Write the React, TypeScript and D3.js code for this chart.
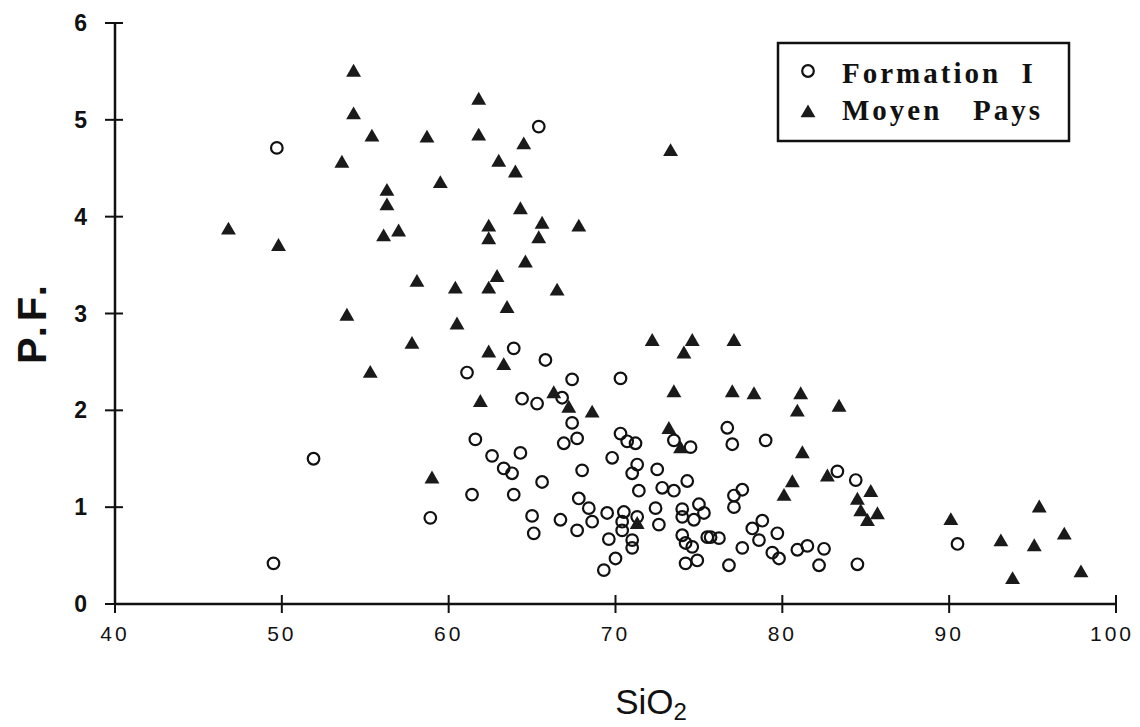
import React from 'react';
import * as d3 from 'd3';

// SiO2 / P.F. pairs
const formationI: [number, number][] = [
  [49.5, 0.42], [49.7, 4.71], [51.9, 1.5], [58.9, 0.89], [61.1, 2.39], [61.4, 1.13],
  [61.6, 1.7], [62.6, 1.53], [63.3, 1.4], [63.8, 1.35], [63.9, 2.64], [63.9, 1.13],
  [64.3, 1.56], [64.4, 2.12], [65.0, 0.91], [65.1, 0.73], [65.3, 2.07], [65.4, 4.93],
  [65.6, 1.26], [65.8, 2.52], [66.7, 0.87], [66.8, 2.13], [66.9, 1.66], [67.4, 2.32],
  [67.4, 1.87], [67.7, 1.71], [67.7, 0.76], [67.8, 1.09], [68.0, 1.38], [68.4, 0.99],
  [68.6, 0.85], [69.3, 0.35], [69.5, 0.94], [69.6, 0.67], [69.8, 1.51], [70.0, 0.47],
  [70.3, 2.33], [70.3, 1.76], [70.4, 0.85], [70.4, 0.76], [70.5, 0.95], [70.7, 1.68],
  [71.0, 1.35], [71.0, 0.66], [71.0, 0.58], [71.2, 1.66], [71.3, 1.44], [71.3, 0.9],
  [71.4, 1.17], [72.4, 0.99], [72.5, 1.39], [72.6, 0.82], [72.8, 1.2], [73.5, 1.69],
  [73.5, 1.17], [74.0, 0.98], [74.0, 0.9], [74.0, 0.71], [74.2, 0.63], [74.2, 0.42],
  [74.3, 1.27], [74.5, 1.62], [74.6, 0.59], [74.7, 0.87], [74.9, 0.45], [75.0, 1.03],
  [75.3, 0.94], [75.5, 0.69], [75.7, 0.69], [76.2, 0.68], [76.7, 1.82], [76.8, 0.4],
  [77.0, 1.65], [77.1, 1.0], [77.1, 1.12], [77.6, 1.18], [77.6, 0.58], [78.2, 0.78],
  [78.6, 0.66], [78.8, 0.86], [79.0, 1.69], [79.4, 0.53], [79.7, 0.73], [79.8, 0.47],
  [80.9, 0.56], [81.5, 0.6], [82.2, 0.4], [82.5, 0.57], [83.3, 1.37], [84.4, 1.28],
  [84.5, 0.41], [90.5, 0.62],
];

const moyenPays: [number, number][] = [
  [46.8, 3.86], [49.8, 3.69], [53.6, 4.55], [53.9, 2.97], [54.3, 5.49], [54.3, 5.05],
  [55.3, 2.38], [55.4, 4.82], [56.1, 3.79], [56.3, 4.26], [56.3, 4.11], [57.0, 3.84],
  [57.8, 2.68], [58.1, 3.32], [58.7, 4.81], [59.0, 1.29], [59.5, 4.34], [60.4, 3.25],
  [60.5, 2.88], [61.8, 5.2], [61.8, 4.83], [61.9, 2.08], [62.4, 3.89], [62.4, 3.76],
  [62.4, 3.25], [62.4, 2.59], [62.9, 3.37], [63.0, 4.56], [63.3, 2.46], [63.5, 3.05],
  [64.0, 4.45], [64.3, 4.07], [64.5, 4.74], [64.6, 3.52], [65.4, 3.77], [65.6, 3.92],
  [66.3, 2.17], [66.5, 3.23], [67.2, 2.02], [67.8, 3.89], [68.6, 1.97], [71.3, 0.82],
  [72.2, 2.71], [73.2, 1.8], [73.3, 4.67], [73.5, 2.18], [73.9, 1.6], [74.1, 2.58],
  [74.6, 2.71], [77.0, 2.18], [77.1, 2.71], [78.3, 2.16], [80.1, 1.11], [80.6, 1.25],
  [80.9, 1.98], [81.1, 2.16], [81.2, 1.55], [82.7, 1.31], [83.4, 2.03], [84.5, 1.07],
  [84.7, 0.95], [85.1, 0.85], [85.3, 1.15], [85.7, 0.92], [90.1, 0.86], [93.1, 0.64],
  [93.8, 0.25], [95.1, 0.59], [95.4, 0.99], [96.9, 0.71], [97.9, 0.32],
];

const xTicks = [40, 50, 60, 70, 80, 90, 100];
const yTicks = [0, 1, 2, 3, 4, 5, 6];
const legendLabels = ['Formation  I', 'Moyen   Pays'];

const App: React.FC = () => {
  const width = 1140;
  const height = 727;
  const x = d3.scaleLinear().domain([40, 100]).range([115, 1116]);
  const y = d3.scaleLinear().domain([0, 6]).range([604, 23]);

  const tri = d3.symbol().type(d3.symbolTriangle).size(96)()!;
  const sans = 'Liberation Sans, Arial, sans-serif';
  const serif = 'Liberation Serif, Times New Roman, serif';

  return (
    <svg width={width} height={height} style={{ position: 'absolute', left: 0, top: 0, background: '#fff' }}>
      {/* axes */}
      <g stroke="#111" fill="none">
        <line x1={x(40)} x2={x(100)} y1={y(0)} y2={y(0)} strokeWidth={2.5} />
        <line x1={x(40)} x2={x(40)} y1={y(0)} y2={y(6)} strokeWidth={2.5} />
        {xTicks.map(t => (
          <line key={'xt' + t} x1={x(t)} x2={x(t)} y1={y(0) - 9} y2={y(0) + 9} strokeWidth={2} />
        ))}
        {yTicks.map(t => (
          <line key={'yt' + t} x1={x(40) - 10} x2={x(40) + 8} y1={y(t)} y2={y(t)} strokeWidth={2} />
        ))}
      </g>

      {xTicks.map(t => (
        <text key={'xl' + t} x={t === 100 ? x(t) - 4 : x(t)} y={y(0) + 37} textAnchor="middle" fontFamily={sans}
          fontSize={21} letterSpacing={3} fill="#111">{t}</text>
      ))}
      {yTicks.map(t => (
        <text key={'yl' + t} x={87} y={y(t) + 8} textAnchor="end" fontFamily={sans}
          fontSize={23} fontWeight="bold" fill="#111">{t}</text>
      ))}

      <text transform="translate(46,322) rotate(-90)" textAnchor="middle" fontFamily={sans}
        fontSize={40} fontWeight="bold" letterSpacing={5} fill="#111">P.F.</text>
      <text x={651} y={714} textAnchor="middle" fontFamily={sans} fontSize={35} fill="#111">
        SiO<tspan fontSize={24} dy={6}>2</tspan>
      </text>

      {/* points */}
      {formationI.map((d, i) => (
        <circle key={'f' + i} cx={x(d[0])} cy={y(d[1])} r={5.8} fill="none" stroke="#111" strokeWidth={2.2} />
      ))}
      {moyenPays.map((d, i) => (
        <path key={'m' + i} d={tri} transform={`translate(${x(d[0])},${y(d[1])})`} fill="#1a1a1a" />
      ))}

      {/* legend */}
      <rect x={778} y={43} width={291} height={98} fill="#fff" stroke="#111" strokeWidth={2.5} />
      <circle cx={808} cy={71} r={5.8} fill="none" stroke="#111" strokeWidth={2.2} />
      <path d={tri} transform="translate(808,113)" fill="#1a1a1a" />
      {legendLabels.map((l, i) => (
        <text key={l} x={842} y={83 + i * 37} fontFamily={serif} fontSize={29} fontWeight="bold"
          letterSpacing={3} fill="#111" style={{ whiteSpace: 'pre' }}>{l}</text>
      ))}
    </svg>
  );
};

export default App;
